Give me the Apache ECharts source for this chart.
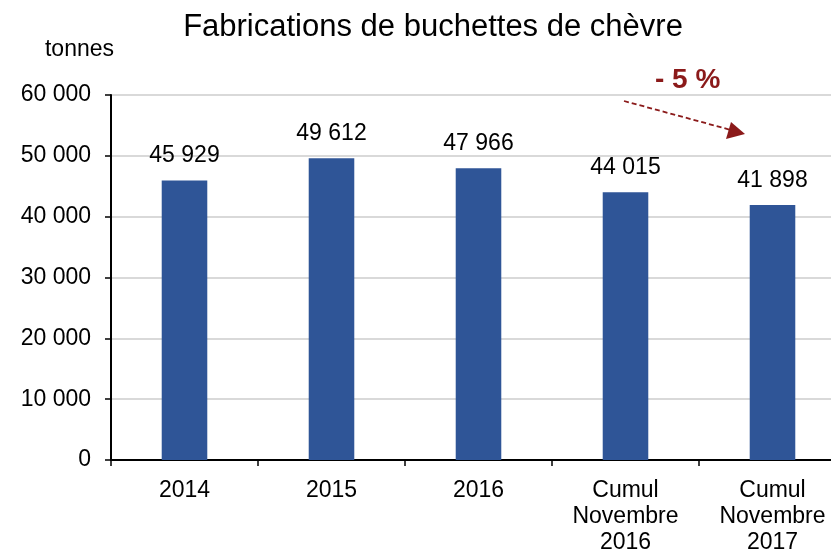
<!DOCTYPE html>
<html>
<head>
<meta charset="utf-8">
<script src="https://cdn.jsdelivr.net/npm/echarts@6/dist/echarts.min.js"></script>
<style>
  html, body { margin: 0; padding: 0; background: #fff; }
  #chart { width: 831px; height: 550px; }
</style>
</head>
<body>
<div id="chart"></div>
<script>
const categories = ['2014', '2015', '2016', 'Cumul\nNovembre\n2016', 'Cumul\nNovembre\n2017']
const production = [45929, 49612, 47966, 44015, 41898]
const yTicks = [0, 10000, 20000, 30000, 40000, 50000, 60000]

const fmt = v => String(v).replace(/\B(?=(\d{3})+(?!\d))/g, ' ')
const font = 'Liberation Sans, Arial, sans-serif'

const chart = echarts.init(document.getElementById('chart'))

chart.setOption({
  animation: false,
  title: {
    text: 'Fabrications de buchettes de chèvre',
    left: 428,
    textAlign: 'center',
    top: 7,
    textStyle: { fontFamily: font, fontSize: 31, fontWeight: 'normal', color: '#000' }
  },
  grid: { left: 111, top: 95, width: 735, height: 365, outerBoundsMode: 'none', containLabel: false },
  xAxis: {
    type: 'category',
    data: categories,
    axisLine: { lineStyle: { color: '#000', width: 2 } },
    axisTick: { show: true, length: 6, lineStyle: { color: '#000', width: 1.5 } },
    axisLabel: {
      fontFamily: font, fontSize: 23, color: '#000', margin: 18, lineHeight: 26
    }
  },
  yAxis: {
    type: 'value',
    min: yTicks[0],
    max: yTicks[yTicks.length - 1],
    interval: 10000,
    name: 'tonnes',
    nameLocation: 'end',
    nameGap: 34,
    nameTextStyle: { fontFamily: font, fontSize: 23, color: '#000', align: 'right', padding: [0, -3, 0, 0] },
    axisLine: { show: true, lineStyle: { color: '#000', width: 2 } },
    axisTick: { show: true, length: 6, lineStyle: { color: '#000', width: 1.5 } },
    axisLabel: {
      fontFamily: font, fontSize: 23, color: '#000', margin: 20,
      formatter: fmt
    },
    splitLine: { lineStyle: { color: '#D9D9D9', width: 2 } }
  },
  series: [{
    type: 'bar',
    data: production,
    barWidth: '31%',
    itemStyle: { color: '#2F5597' },
    label: {
      show: true,
      position: 'top',
      distance: 13,
      fontFamily: font,
      fontSize: 23,
      color: '#000',
      formatter: p => fmt(p.value)
    }
  }],
  graphic: [
    {
      type: 'text',
      left: 655,
      top: 66,
      style: {
        text: '- 5 %',
        fill: '#8B1A1A',
        font: 'bold 28px ' + font
      }
    },
    {
      type: 'line',
      shape: { x1: 624, y1: 101, x2: 731, y2: 130 },
      style: { stroke: '#8B1A1A', lineWidth: 1.8, lineDash: [5, 3] }
    },
    {
      type: 'polygon',
      shape: { points: [[745, 134], [726, 139], [731, 122]] },
      style: { fill: '#8B1A1A' }
    }
  ]
})
</script>
</body>
</html>
